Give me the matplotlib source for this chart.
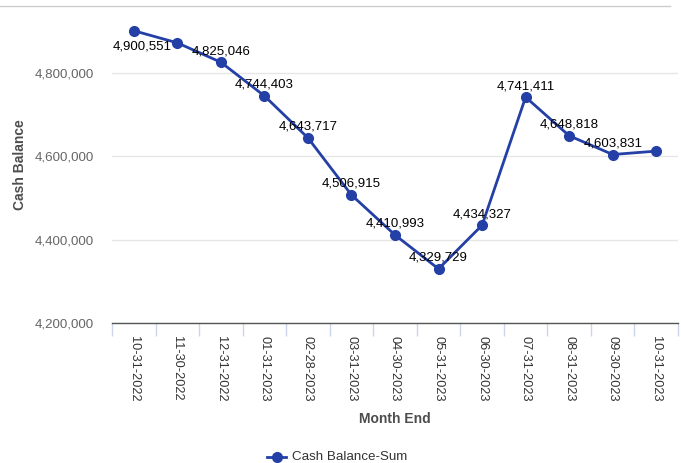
import matplotlib.pyplot as plt
from matplotlib.lines import Line2D
from matplotlib.ticker import FuncFormatter, FixedLocator
import numpy as np

plt.rcParams['font.family'] = ['Liberation Sans', 'DejaVu Sans']

# Data
months = ['10-31-2022', '11-30-2022', '12-31-2022', '01-31-2023', '02-28-2023',
          '03-31-2023', '04-30-2023', '05-31-2023', '06-30-2023', '07-31-2023',
          '08-31-2023', '09-30-2023', '10-31-2023']
cash_balance = [4900551, 4871500, 4825046, 4744403, 4643717, 4506915, 4410993,
                4329729, 4434327, 4741411, 4648818, 4603831, 4612000]
# which points show a data label (the chart hides overlapping ones)
show_label = [True, False, True, True, True, True, True, True, True, True, True, True, False]

color = '#2440a6'

fig = plt.figure(figsize=(6.81, 4.63), dpi=100)
W, H = 681, 463
left, right, top, bottom = 112, 678, 8, 323
ax = fig.add_axes([left / W, 1 - bottom / H, (right - left) / W, (bottom - top) / H])

x = np.arange(len(months))
ax.plot(x, cash_balance, color=color, lw=2, marker='o', ms=7, zorder=3, clip_on=False)

for i, v in enumerate(cash_balance):
    if not show_label[i]:
        continue
    off = (8, -16) if i == 0 else (0, 11)
    ax.annotate(f'{v:,}', (i, v), xytext=off, textcoords='offset pixels',
                ha='center', va='center', fontsize=9.5, color='black', zorder=4)

ax.set_xlim(-0.5, len(months) - 0.5)
ax.set_ylim(4200000, 4955000)

ax.set_xticks(x)
ax.set_xticklabels(months, rotation=270, fontsize=9.2, color='#333333')
ax.xaxis.set_minor_locator(FixedLocator(np.arange(-0.5, len(months), 1)))
ax.tick_params(axis='x', which='major', length=0, pad=9)
ax.tick_params(axis='x', which='minor', length=9, color='#ccd6eb', width=1)

ax.set_yticks([4200000, 4400000, 4600000, 4800000])
ax.yaxis.set_major_formatter(FuncFormatter(lambda v, p: f'{int(v):,}'))
ax.tick_params(axis='y', length=0, pad=13, labelsize=9.6, labelcolor='#666666')
ax.grid(axis='y', color='#e6e6e6', lw=1)
ax.set_axisbelow(True)

for s in ['top', 'right', 'left']:
    ax.spines[s].set_visible(False)
ax.spines['bottom'].set_color('#555555')
ax.spines['bottom'].set_linewidth(1)

fig.text(20 / W, 1 - 165 / H, 'Cash Balance', rotation=90, fontsize=10, fontweight='bold',
         color='#4d4d4d', ha='center', va='center')
fig.text(395 / W, 1 - 419 / H, 'Month End', fontsize=10, fontweight='bold',
         color='#4d4d4d', ha='center', va='center')

# top border line
fig.add_artist(Line2D([0, 670 / W], [1 - 6 / H, 1 - 6 / H], color='#cccccc', lw=1))

# legend
fig.add_artist(Line2D([267 / W, 286 / W], [1 - 457 / H] * 2, color=color, lw=2))
fig.add_artist(Line2D([276.5 / W], [1 - 457 / H], color=color, marker='o', ms=7, lw=0))
fig.text(292 / W, 1 - 457 / H, 'Cash Balance-Sum', fontsize=9.6, color='#333333',
         ha='left', va='center')

fig.savefig('out.png', dpi=100)
